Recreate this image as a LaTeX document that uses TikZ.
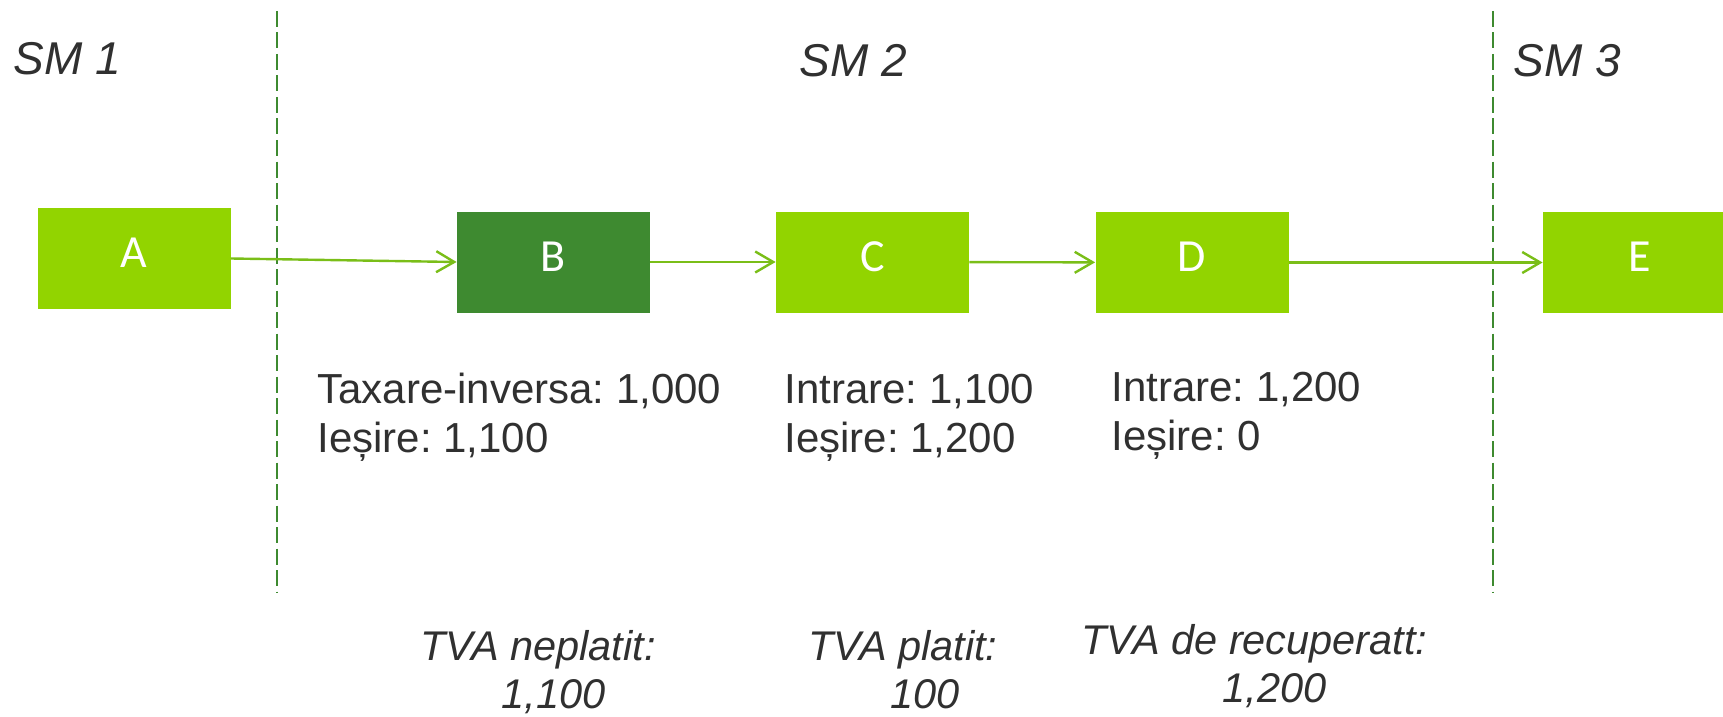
\documentclass[tikz,border=0pt]{standalone}
\usepackage{fontspec}
\setmainfont{Liberation Sans}
\newfontfamily\boxfont{Carlito}
\usetikzlibrary{arrows.meta}
\frenchspacing
\definecolor{lgreen}{RGB}{146,212,0}
\definecolor{dgreen}{RGB}{62,138,48}
\definecolor{arrgreen}{RGB}{122,190,24}
\definecolor{txt}{RGB}{48,48,48}
\tikzset{
  firm/.style={fill=lgreen, draw=none, minimum width=96.5pt, minimum height=50.5pt, inner sep=0pt, text height=12pt, text depth=3pt, text=white, font=\boxfont\fontsize{23pt}{27pt}\selectfont},
  firmdark/.style={firm, fill=dgreen},
  flow/.style={draw=arrgreen, line width=1.2pt, -{Straight Barb[length=9pt,width=10.5pt,line width=1.2pt]}},
  border/.style={draw=dgreen, line width=1pt, dash pattern=on 8pt off 2.75pt},
  smlabel/.style={anchor=base west, inner sep=0pt, text=txt, font=\fontsize{23pt}{27pt}\selectfont\itshape},
  body/.style={anchor=base west, inner sep=0pt, text=txt, font=\fontsize{21pt}{25pt}\selectfont},
  vat/.style={anchor=base west, inner sep=0pt, text=txt, font=\fontsize{20.75pt}{24pt}\selectfont\itshape},
}
\begin{document}
\begin{tikzpicture}[x=0.5pt, y=-0.5pt]
\useasboundingbox (0,0) rectangle (1723,717);
\clip (0,0) rectangle (1723,717);
% region borders
\coordinate (b1top) at (277,11);
\coordinate (b1bot) at (277,593);
\coordinate (b2top) at (1492.5,11);
\coordinate (b2bot) at (1492.5,593);
\draw[border] (b1top) -- (b1bot);
\draw[border] (b2top) -- (b2bot);
% region labels
\node[smlabel] (sm1) at (13,75) {SM 1};
\node[smlabel] (sm2) at (799,77) {SM 2};
\node[smlabel] (sm3) at (1513,77) {SM 3};
% firms
\node[firm] (A) at (134,258.5) {A};
\node[firmdark] (B) at (553.5,262) {B};
\node[firm] (C) at (872.5,262) {C};
\node[firm] (D) at (1192,262.5) {D};
\node[firm] (E) at (1639.5,262.5) {E};
% flows
\draw[flow] (A.east) -- (B.west);
\draw[flow] (B) -- (C);
\draw[flow] (C) -- (D);
\draw[flow] (D) -- (E);
% amounts
\node[body] (b1l1) at (317,403) {Taxare-inversa: 1,000};
\node[body] (b1l2) at (317,452) {Ieșire: 1,100};
\node[body] (b2l1) at (784,403) {Intrare: 1,100};
\node[body] (b2l2) at (784,452) {Ieșire: 1,200};
\node[body] (b3l1) at (1111,401) {Intrare: 1,200};
\node[body] (b3l2) at (1111,450) {Ieșire: 0};
% VAT
\node[vat] (v1l1) at (420,660) {TVA neplatit:};
\node[vat] (v1l2) at (501,708) {1,100};
\node[vat] (v2l1) at (808,660) {TVA platit:};
\node[vat] (v2l2) at (890,708) {100};
\node[vat] (v3l1) at (1081,654) {TVA de recuperatt:};
\node[vat] (v3l2) at (1222,702) {1,200};
\end{tikzpicture}
\end{document}
